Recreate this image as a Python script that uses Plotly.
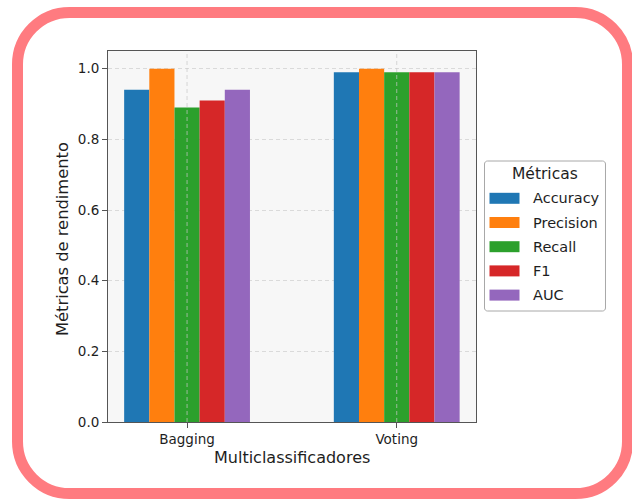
import plotly.graph_objects as go

categories = ["Bagging", "Voting"]
metric_names = ["Accuracy", "Precision", "Recall", "F1", "AUC"]
accuracy = [0.94, 0.99]
precision = [1.00, 1.00]
recall = [0.89, 0.99]
f1 = [0.91, 0.99]
auc = [0.94, 0.99]
series_values = [accuracy, precision, recall, f1, auc]
colors = ["#1f77b4", "#ff7f0e", "#2ca02c", "#d62728", "#9467bd"]
y_ticks = [0.0, 0.2, 0.4, 0.6, 0.8, 1.0]

FW, FH = 632, 499
L, R, T, B = 108, 476, 51, 422
PW, PH = R - L, B - T


def fx(px):
    return (px - L) / PW


def fy(py):
    return (B - py) / PH


def rounded_path(x0, y0, x1, y1, r):
    k = 0.5523 * r
    pts = [
        ("M", [(x0 + r, y0)]),
        ("L", [(x1 - r, y0)]),
        ("C", [(x1 - r + k, y0), (x1, y0 + r - k), (x1, y0 + r)]),
        ("L", [(x1, y1 - r)]),
        ("C", [(x1, y1 - r + k), (x1 - r + k, y1), (x1 - r, y1)]),
        ("L", [(x0 + r, y1)]),
        ("C", [(x0 + r - k, y1), (x0, y1 - r + k), (x0, y1 - r)]),
        ("L", [(x0, y0 + r)]),
        ("C", [(x0, y0 + r - k), (x0 + r - k, y0), (x0 + r, y0)]),
    ]
    p = ""
    for cmd, ps in pts:
        p += cmd + " ".join(f"{fx(a):.5f},{fy(b):.5f}" for a, b in ps) + " "
    return p + "Z"


FONT = "DejaVu Sans"
TXT = "#1e1e1e"

fig = go.Figure()
for name, vals, col in zip(metric_names, series_values, colors):
    fig.add_trace(go.Bar(x=categories, y=vals, name=name,
                         marker=dict(color=col, line=dict(width=0)),
                         showlegend=False))

shapes = []
annotations = []

# rounded pink frame
shapes.append(dict(type="path", xref="paper", yref="paper",
                   path=rounded_path(17.5, 12.5, 627.5, 493.5, 52),
                   line=dict(color="#ff7b80", width=11), layer="above"))

# vertical dashed grid lines over bars (matplotlib-like)
for c in categories:
    shapes.append(dict(type="line", xref="x", yref="paper", x0=c, x1=c, y0=0, y1=1,
                       line=dict(color="rgba(200,200,200,0.7)", width=1, dash="4px,3px"),
                       layer="above"))

# legend box
shapes.append(dict(type="path", xref="paper", yref="paper",
                   path=rounded_path(484.5, 161, 605.5, 311, 3),
                   line=dict(color="#a8a8a8", width=1), fillcolor="white", layer="above"))
annotations.append(dict(text="Métricas", xref="paper", yref="paper", x=fx(545), y=fy(174),
                        xanchor="center", yanchor="middle", showarrow=False,
                        font=dict(family=FONT, size=15.5, color=TXT)))
for i, (name, col) in enumerate(zip(metric_names, colors)):
    cy = 198.3 + i * 24.2
    shapes.append(dict(type="rect", xref="paper", yref="paper",
                       x0=fx(489.5), x1=fx(519.5), y0=fy(cy + 5.5), y1=fy(cy - 5.5),
                       line=dict(width=0), fillcolor=col, layer="above"))
    annotations.append(dict(text=name, xref="paper", yref="paper", x=fx(531), y=fy(cy),
                            xanchor="left", yanchor="middle", showarrow=False,
                            font=dict(family=FONT, size=14.5, color=TXT)))

# axis titles
annotations.append(dict(text="Multiclassificadores", xref="paper", yref="paper",
                        x=fx(292), y=fy(457), xanchor="center", yanchor="middle",
                        showarrow=False, font=dict(family=FONT, size=16, color=TXT)))
annotations.append(dict(text="Métricas de rendimento", xref="paper", yref="paper",
                        x=fx(63), y=fy(239), xanchor="center", yanchor="middle",
                        textangle=-90, showarrow=False,
                        font=dict(family=FONT, size=16.3, color=TXT)))

fig.update_layout(
    width=FW, height=FH,
    margin=dict(l=L, r=FW - R, t=T, b=FH - B, pad=0),
    paper_bgcolor="white", plot_bgcolor="#f7f7f7",
    barmode="group", bargap=0.4, bargroupgap=0,
    font=dict(family=FONT, size=13.5, color=TXT),
    shapes=shapes, annotations=annotations,
    showlegend=False,
)
fig.update_xaxes(range=[-0.377, 1.378], showgrid=False,
                 showline=True, mirror=True, linecolor="#555", linewidth=1,
                 ticks="outside", ticklen=5, tickcolor="#555",
                 tickfont=dict(family=FONT, size=13.5, color=TXT))
fig.update_yaxes(range=[0, 1.05], tickvals=y_ticks, ticktext=[f"{v:.1f}" for v in y_ticks],
                 showgrid=True, gridcolor="#dadada", griddash="4px,3px", gridwidth=1,
                 zeroline=False, showline=True, mirror=True, linecolor="#555", linewidth=1,
                 ticks="outside", ticklen=5, tickcolor="#555",
                 tickfont=dict(family=FONT, size=13.5, color=TXT))

# remove the default page margin so the 632x499 figure fills the window exactly
page_fix = ("document.body.style.margin='0';"
            "document.body.style.overflow='hidden';"
            "document.documentElement.style.overflow='hidden';")
fig.write_html("out.html", post_script=page_fix,
               config={"displayModeBar": False, "staticPlot": True})
